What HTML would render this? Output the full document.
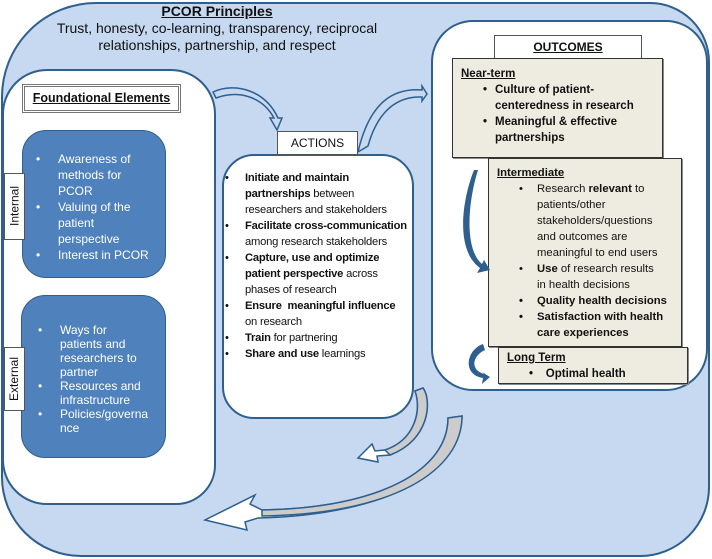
<!DOCTYPE html>
<html><head><meta charset="utf-8"><style>
*{margin:0;padding:0;box-sizing:border-box}
body{width:712px;height:559px;background:#fff;position:relative;overflow:hidden;font-family:"Liberation Sans",sans-serif;color:#111}
.a{position:absolute}
.lab{background:#fff;border:1px solid #555;text-align:center}
.r{display:flex}
.r>span:first-child{flex-shrink:0}
.tan{background:#eeece1;border:1.5px solid #333;box-shadow:1px 1px 0 #888}
b{font-weight:bold}
</style></head><body>
<div class="a" style="left:1px;top:2px;width:709px;height:555px;background:#c6d9f0;border:2px solid #2e5f8f;border-radius:95px 60px 70px 80px"></div>
<div class="a" style="left:0;top:3px;width:434px;text-align:center;font-size:14px;line-height:17px">
<div style="font-weight:bold;text-decoration:underline">PCOR Principles</div>
<div>Trust, honesty, co-learning, transparency, reciprocal<br>relationships, partnership, and respect</div></div>

<div class="a" style="left:2px;top:69px;width:214px;height:436px;background:#fff;border:2px solid #2e5f8f;border-radius:45px 45px 40px 45px"></div>
<div class="a lab" style="left:22px;top:84px;width:159px;height:29px;border:3px double #777;font-weight:bold;font-size:12.5px;line-height:23px"><u>Foundational Elements</u></div>
<div class="a" style="left:22px;top:130px;width:144px;height:148px;background:#4f81bd;border:1.5px solid #2e5f8f;border-radius:24px"></div>
<div class="a" style="left:36px;top:151px;width:128px;color:#fff;font-size:12px;line-height:16px">
<div class="r"><span style="width:22px">•</span><span>Awareness of<br>methods for<br>PCOR</span></div>
<div class="r"><span style="width:22px">•</span><span>Valuing of the<br>patient<br>perspective</span></div>
<div class="r"><span style="width:22px">•</span><span>Interest in PCOR</span></div></div>
<div class="a lab" style="left:4px;top:173px;width:21px;height:67px"><div style="position:absolute;left:-24px;top:24px;width:67px;transform:rotate(-90deg);font-size:12px;line-height:16px">Internal</div></div>

<div class="a" style="left:21px;top:295px;width:145px;height:163px;background:#4f81bd;border:1.5px solid #2e5f8f;border-radius:24px"></div>
<div class="a" style="left:38px;top:323px;width:128px;color:#fff;font-size:12px;line-height:14px">
<div class="r"><span style="width:22px">•</span><span>Ways for<br>patients and<br>researchers to<br>partner</span></div>
<div class="r"><span style="width:22px">•</span><span>Resources and<br>infrastructure</span></div>
<div class="r"><span style="width:22px">•</span><span>Policies/governa<br>nce</span></div></div>
<div class="a lab" style="left:4px;top:347px;width:21px;height:64px"><div style="position:absolute;left:-23px;top:23px;width:64px;transform:rotate(-90deg);font-size:12px;line-height:16px">External</div></div>

<div class="a" style="left:222px;top:154px;width:192px;height:265px;background:#fff;border:2px solid #2e5f8f;border-radius:32px"></div>
<div class="a lab" style="left:277px;top:131px;width:81px;height:24px;font-size:12px;line-height:22px">ACTIONS</div>
<div class="a" style="left:225px;top:170px;width:192px;font-size:11.2px;line-height:16px;letter-spacing:-0.2px">
<div class="r"><span style="width:20px">•</span><span><b>Initiate and maintain<br>partnerships</b> between<br>researchers and stakeholders</span></div>
<div class="r"><span style="width:20px">•</span><span><b>Facilitate cross-communication</b><br>among research stakeholders</span></div>
<div class="r"><span style="width:20px">•</span><span><b>Capture, use and optimize<br>patient perspective</b> across<br>phases of research</span></div>
<div class="r"><span style="width:20px">•</span><span><b>Ensure &nbsp;meaningful influence</b><br>on research</span></div>
<div class="r"><span style="width:20px">•</span><span><b>Train</b> for partnering</span></div>
<div class="r"><span style="width:20px">•</span><span><b>Share and use</b> learnings</span></div></div>

<div class="a" style="left:431px;top:20px;width:277px;height:371px;background:#fff;border:2px solid #2e5f8f;border-radius:42px"></div>
<div class="a lab" style="left:494px;top:35px;width:148px;height:24px;font-size:12px;font-weight:bold;line-height:22px"><u>OUTCOMES</u></div>
<div class="a tan" style="left:452px;top:58px;width:211px;height:100px;font-size:11.5px;line-height:16px;padding:7px 0 0 8px">
<div style="font-weight:bold"><u>Near-term</u></div>
<div class="r" style="font-weight:bold"><span style="width:34px;padding-left:22px">•</span><span>Culture of patient-<br>centeredness in research</span></div>
<div class="r" style="font-weight:bold"><span style="width:34px;padding-left:22px">•</span><span>Meaningful &amp; effective<br>partnerships</span></div></div>
<div class="a tan" style="left:488px;top:158px;width:194px;height:189px;font-size:11.3px;line-height:16px;padding:6px 0 0 8px">
<div style="font-weight:bold"><u>Intermediate</u></div>
<div class="r"><span style="width:40px;padding-left:22px">•</span><span>Research <b>relevant</b> to<br>patients/other<br>stakeholders/questions<br>and outcomes are<br>meaningful to end users</span></div>
<div class="r"><span style="width:40px;padding-left:22px">•</span><span><b>Use</b> of research results<br>in health decisions</span></div>
<div class="r" style="font-weight:bold"><span style="width:40px;padding-left:22px">•</span><span>Quality health decisions</span></div>
<div class="r" style="font-weight:bold"><span style="width:40px;padding-left:22px">•</span><span>Satisfaction with health<br>care experiences</span></div></div>
<div class="a tan" style="left:498px;top:347px;width:190px;height:37px;font-size:11.5px;line-height:16px;padding:2px 0 0 8px">
<div style="font-weight:bold"><u>Long Term</u></div>
<div style="font-weight:bold;padding-left:22px">•&nbsp;&nbsp;&nbsp;&nbsp;Optimal health</div></div>

<svg class="a" style="left:0;top:0" width="712" height="559">
<g fill="#fff" stroke="#2e5f8f" stroke-width="1.5">
<path d="M213,92 C235,82 265,90 278,118 L282,118 L277,130 L270,118 L274,118 C262,96 238,90 216,98 Z" fill="#c6d9f0"/>
<path d="M358,152 C370,100 395,88 422,90 L422,86 L427,94 L422,101 L422,97 C398,96 378,110 368,146 Z" fill="#c6d9f0"/>
<path d="M415,391 C422,410 415,440 385,450 L375,451 L372,444 L358,458 L378,462 L377,456 L390,455 C430,440 432,400 423,388 Z"/>
<path d="M448,418 C448,470 380,508 262,510 L250,504 L255,495 L205,520 L247,530 L245,522 L258,518 C390,515 462,470 462,416 Z" fill="#fff"/>
<path d="M448,418 C448,470 380,508 262,510 L262,516 C395,514 462,470 462,416 Z" fill="#ccc"/>
<path d="M415,391 C422,410 415,440 385,450 L390,455 C430,440 432,400 423,388 Z" fill="#ccc"/>
</g>
<g fill="#2e5f8f">
<path d="M474,170 C462,200 455,250 480,268 L477,273 L490,270 L484,260 L482,264 C465,250 467,205 478,170 Z"/>
<path d="M483,344 C466,350 462,375 483,378 L482,384 L490,377 L482,372 L484,374 C470,370 472,356 485,350 Z"/>
</g>
</svg>
</body></html>
